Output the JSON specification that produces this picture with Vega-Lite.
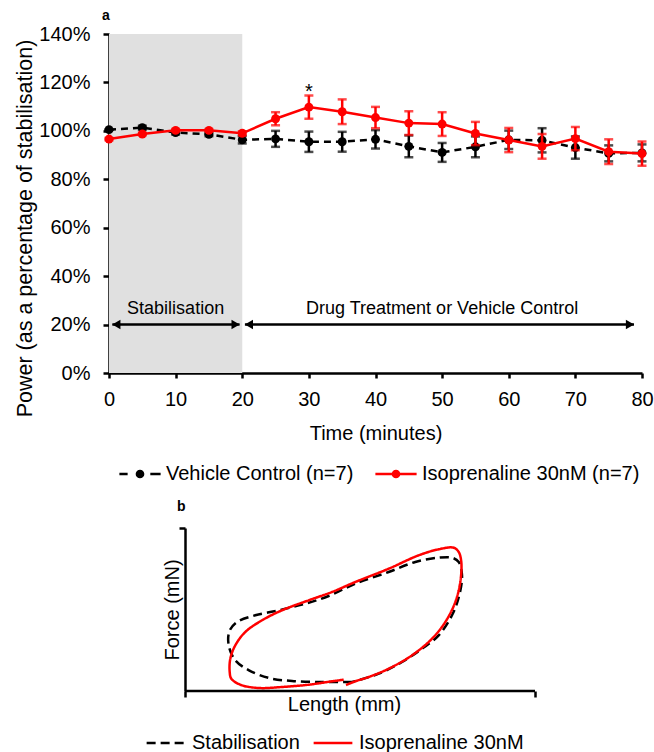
{
  "$schema": "https://vega.github.io/schema/vega-lite/v6.json",
  "padding": {"left": 14, "top": 9, "right": 0, "bottom": 0},
  "background": "white",
  "config": {
    "font": "Liberation Sans",
    "view": {"stroke": null},
    "axis": {"domainColor": "black", "tickColor": "black", "labelColor": "black", "titleColor": "black", "domainWidth": 2.5, "tickWidth": 2.5, "grid": false, "labelFont": "Liberation Sans", "titleFont": "Liberation Sans", "titleFontWeight": "normal", "labelFontSize": 20, "titleFontSize": 20},
    "legend": {"labelFont": "Liberation Sans", "labelFontSize": 20, "labelColor": "black", "labelLimit": 400, "symbolOpacity": 1},
    "title": {"font": "Liberation Sans", "color": "black"}
  },
  "datasets": {
    "shade": [{"start": 0, "end": 20}],
    "phases": [
      {"label": "Stabilisation", "from": 0.5, "to": 19.6, "mid": 10},
      {"label": "Drug Treatment or Vehicle Control", "from": 20.4, "to": 78.8, "mid": 50}
    ],
    "signif": [{"t": 30, "text": "*"}],
    "timecourse": [
      {"series": "Vehicle Control (n=7)", "t": 0, "mean": 100.5, "sem": 0},
      {"series": "Vehicle Control (n=7)", "t": 5, "mean": 101.3, "sem": 0.8},
      {"series": "Vehicle Control (n=7)", "t": 10, "mean": 99.3, "sem": 0.8},
      {"series": "Vehicle Control (n=7)", "t": 15, "mean": 98.6, "sem": 0.8},
      {"series": "Vehicle Control (n=7)", "t": 20, "mean": 96.3, "sem": 1.5},
      {"series": "Vehicle Control (n=7)", "t": 25, "mean": 96.7, "sem": 3.3},
      {"series": "Vehicle Control (n=7)", "t": 30, "mean": 95.5, "sem": 4.2},
      {"series": "Vehicle Control (n=7)", "t": 35, "mean": 95.5, "sem": 4.1},
      {"series": "Vehicle Control (n=7)", "t": 40, "mean": 96.5, "sem": 3.8},
      {"series": "Vehicle Control (n=7)", "t": 45, "mean": 93.6, "sem": 4.5},
      {"series": "Vehicle Control (n=7)", "t": 50, "mean": 91.1, "sem": 3.9},
      {"series": "Vehicle Control (n=7)", "t": 55, "mean": 93.4, "sem": 4.3},
      {"series": "Vehicle Control (n=7)", "t": 60, "mean": 96.3, "sem": 3.8},
      {"series": "Vehicle Control (n=7)", "t": 65, "mean": 96.1, "sem": 5.0},
      {"series": "Vehicle Control (n=7)", "t": 70, "mean": 93.1, "sem": 4.6},
      {"series": "Vehicle Control (n=7)", "t": 75, "mean": 90.7, "sem": 3.3},
      {"series": "Vehicle Control (n=7)", "t": 80, "mean": 90.9, "sem": 3.5},
      {"series": "Isoprenaline 30nM (n=7)", "t": 0, "mean": 96.6, "sem": 0.5},
      {"series": "Isoprenaline 30nM (n=7)", "t": 5, "mean": 98.7, "sem": 0.5},
      {"series": "Isoprenaline 30nM (n=7)", "t": 10, "mean": 100.2, "sem": 0.5},
      {"series": "Isoprenaline 30nM (n=7)", "t": 15, "mean": 100.2, "sem": 0.5},
      {"series": "Isoprenaline 30nM (n=7)", "t": 20, "mean": 99.0, "sem": 0.8},
      {"series": "Isoprenaline 30nM (n=7)", "t": 25, "mean": 105.0, "sem": 2.7},
      {"series": "Isoprenaline 30nM (n=7)", "t": 30, "mean": 109.8, "sem": 4.8},
      {"series": "Isoprenaline 30nM (n=7)", "t": 35, "mean": 107.9, "sem": 5.1},
      {"series": "Isoprenaline 30nM (n=7)", "t": 40, "mean": 105.5, "sem": 4.4},
      {"series": "Isoprenaline 30nM (n=7)", "t": 45, "mean": 103.2, "sem": 4.9},
      {"series": "Isoprenaline 30nM (n=7)", "t": 50, "mean": 102.8, "sem": 4.9},
      {"series": "Isoprenaline 30nM (n=7)", "t": 55, "mean": 98.9, "sem": 4.8},
      {"series": "Isoprenaline 30nM (n=7)", "t": 60, "mean": 96.2, "sem": 5.0},
      {"series": "Isoprenaline 30nM (n=7)", "t": 65, "mean": 93.6, "sem": 5.1},
      {"series": "Isoprenaline 30nM (n=7)", "t": 70, "mean": 96.8, "sem": 4.8},
      {"series": "Isoprenaline 30nM (n=7)", "t": 75, "mean": 91.4, "sem": 5.1},
      {"series": "Isoprenaline 30nM (n=7)", "t": 80, "mean": 90.6, "sem": 5.0}
    ],
    "loops": [
      {"trace": "Stabilisation", "order": 0, "length": 167, "force": 9},
      {"trace": "Stabilisation", "order": 1, "length": 137, "force": 9},
      {"trace": "Stabilisation", "order": 2, "length": 107, "force": 10},
      {"trace": "Stabilisation", "order": 3, "length": 84, "force": 13},
      {"trace": "Stabilisation", "order": 4, "length": 64, "force": 20.7},
      {"trace": "Stabilisation", "order": 5, "length": 50.3, "force": 30.7},
      {"trace": "Stabilisation", "order": 6, "length": 43.7, "force": 45.7},
      {"trace": "Stabilisation", "order": 7, "length": 44.5, "force": 60},
      {"trace": "Stabilisation", "order": 8, "length": 52, "force": 69},
      {"trace": "Stabilisation", "order": 9, "length": 70.3, "force": 75.7},
      {"trace": "Stabilisation", "order": 10, "length": 93.7, "force": 80.7},
      {"trace": "Stabilisation", "order": 11, "length": 120.3, "force": 87.3},
      {"trace": "Stabilisation", "order": 12, "length": 143.7, "force": 95},
      {"trace": "Stabilisation", "order": 13, "length": 170.3, "force": 107.3},
      {"trace": "Stabilisation", "order": 14, "length": 203.7, "force": 119},
      {"trace": "Stabilisation", "order": 15, "length": 230.3, "force": 129},
      {"trace": "Stabilisation", "order": 16, "length": 253.7, "force": 133.3},
      {"trace": "Stabilisation", "order": 17, "length": 267, "force": 133.3},
      {"trace": "Stabilisation", "order": 18, "length": 273.7, "force": 129},
      {"trace": "Stabilisation", "order": 19, "length": 277, "force": 115.7},
      {"trace": "Stabilisation", "order": 20, "length": 274.3, "force": 95.7},
      {"trace": "Stabilisation", "order": 21, "length": 267, "force": 75.7},
      {"trace": "Stabilisation", "order": 22, "length": 253.7, "force": 55.7},
      {"trace": "Stabilisation", "order": 23, "length": 237, "force": 42.3},
      {"trace": "Stabilisation", "order": 24, "length": 217, "force": 29},
      {"trace": "Stabilisation", "order": 25, "length": 193.7, "force": 17.3},
      {"trace": "Stabilisation", "order": 26, "length": 167, "force": 9},
      {"trace": "Isoprenaline 30nM", "order": 0, "length": 158.7, "force": 11.3},
      {"trace": "Isoprenaline 30nM", "order": 1, "length": 147, "force": 9.7},
      {"trace": "Isoprenaline 30nM", "order": 2, "length": 123.7, "force": 6.3},
      {"trace": "Isoprenaline 30nM", "order": 3, "length": 97, "force": 4},
      {"trace": "Isoprenaline 30nM", "order": 4, "length": 73.7, "force": 3},
      {"trace": "Isoprenaline 30nM", "order": 5, "length": 55.3, "force": 6.3},
      {"trace": "Isoprenaline 30nM", "order": 6, "length": 46.3, "force": 12.3},
      {"trace": "Isoprenaline 30nM", "order": 7, "length": 44.7, "force": 19},
      {"trace": "Isoprenaline 30nM", "order": 8, "length": 45.3, "force": 32.3},
      {"trace": "Isoprenaline 30nM", "order": 9, "length": 50.3, "force": 45.7},
      {"trace": "Isoprenaline 30nM", "order": 10, "length": 60.3, "force": 59},
      {"trace": "Isoprenaline 30nM", "order": 11, "length": 77, "force": 70.7},
      {"trace": "Isoprenaline 30nM", "order": 12, "length": 97, "force": 80.7},
      {"trace": "Isoprenaline 30nM", "order": 13, "length": 123.7, "force": 90.7},
      {"trace": "Isoprenaline 30nM", "order": 14, "length": 147, "force": 99},
      {"trace": "Isoprenaline 30nM", "order": 15, "length": 170.3, "force": 109},
      {"trace": "Isoprenaline 30nM", "order": 16, "length": 203.7, "force": 122.3},
      {"trace": "Isoprenaline 30nM", "order": 17, "length": 233.7, "force": 135.7},
      {"trace": "Isoprenaline 30nM", "order": 18, "length": 253.7, "force": 141.7},
      {"trace": "Isoprenaline 30nM", "order": 19, "length": 268.7, "force": 143.3},
      {"trace": "Isoprenaline 30nM", "order": 20, "length": 273.7, "force": 139},
      {"trace": "Isoprenaline 30nM", "order": 21, "length": 276.3, "force": 129},
      {"trace": "Isoprenaline 30nM", "order": 22, "length": 275.3, "force": 109},
      {"trace": "Isoprenaline 30nM", "order": 23, "length": 270.3, "force": 89},
      {"trace": "Isoprenaline 30nM", "order": 24, "length": 260.3, "force": 69},
      {"trace": "Isoprenaline 30nM", "order": 25, "length": 247, "force": 52.3},
      {"trace": "Isoprenaline 30nM", "order": 26, "length": 227, "force": 35.7},
      {"trace": "Isoprenaline 30nM", "order": 27, "length": 203.7, "force": 22.3},
      {"trace": "Isoprenaline 30nM", "order": 28, "length": 183.7, "force": 14},
      {"trace": "Isoprenaline 30nM", "order": 29, "length": 170.3, "force": 9.7},
      {"trace": "Isoprenaline 30nM", "order": 30, "length": 161, "force": 6}
    ],
    "baseline": [{"axis": "length"}]
  },
  "vconcat": [
    {
      "width": 533,
      "height": 339,
      "title": {"text": "a", "anchor": "start", "frame": "group", "fontSize": 14, "fontWeight": "bold", "dx": -7, "offset": 1},
      "layer": [
        {
          "data": {"name": "shade"},
          "mark": {"type": "rect", "color": "#e0e0e0"},
          "encoding": {
            "x": {"field": "start", "type": "quantitative", "scale": {"domain": [0, 80], "nice": false}, "axis": {"title": "Time (minutes)", "values": [0, 10, 20, 30, 40, 50, 60, 70, 80], "tickSize": 5, "labelPadding": 11, "titlePadding": 14, "labelFlush": false}},
            "x2": {"field": "end"},
            "y": {"datum": 0, "type": "quantitative", "scale": {"domain": [0, 140], "nice": false}, "axis": {"title": "Power (as a percentage of stabilisation)", "titleFontSize": 21.5, "titleY": 194, "titleAlign": "center", "values": [0, 20, 40, 60, 80, 100, 120, 140], "labelExpr": "datum.value + '%'", "tickSize": 6, "labelPadding": 13, "titlePadding": 2}},
            "y2": {"datum": 140}
          }
        },
        {
          "data": {"name": "phases"},
          "mark": {"type": "rule", "color": "black", "strokeWidth": 2.5},
          "encoding": {"x": {"field": "from", "type": "quantitative"}, "x2": {"field": "to"}, "y": {"datum": 20, "type": "quantitative"}}
        },
        {
          "data": {"name": "phases"},
          "mark": {"type": "point", "shape": "triangle-left", "filled": true, "color": "black", "opacity": 1, "size": 90, "xOffset": 4},
          "encoding": {"x": {"field": "from", "type": "quantitative"}, "y": {"datum": 20, "type": "quantitative"}}
        },
        {
          "data": {"name": "phases"},
          "mark": {"type": "point", "shape": "triangle-right", "filled": true, "color": "black", "opacity": 1, "size": 90, "xOffset": -4},
          "encoding": {"x": {"field": "to", "type": "quantitative"}, "y": {"datum": 20, "type": "quantitative"}}
        },
        {
          "data": {"name": "phases"},
          "mark": {"type": "text", "fontSize": 18, "color": "black", "baseline": "alphabetic", "align": "center"},
          "encoding": {"x": {"field": "mid", "type": "quantitative"}, "y": {"datum": 24.4, "type": "quantitative"}, "text": {"field": "label"}}
        },
        {
          "data": {"name": "timecourse"},
          "transform": [{"filter": "datum.series === 'Vehicle Control (n=7)'"}],
          "mark": {"type": "line", "strokeWidth": 2.5, "strokeDash": [7, 5]},
          "encoding": {
            "x": {"field": "t", "type": "quantitative", "title": "Time (minutes)"},
            "y": {"field": "mean", "type": "quantitative", "title": "Power (as a percentage of stabilisation)"},
            "color": {"field": "series", "type": "nominal", "scale": {"domain": ["Vehicle Control (n=7)", "Isoprenaline 30nM (n=7)"], "range": ["black", "#ff0000"]}, "legend": {"title": null, "orient": "none", "direction": "horizontal", "legendX": 9, "legendY": 418, "padding": 0, "symbolSize": 1700, "symbolStrokeWidth": 2.5, "symbolOpacity": 1, "labelOffset": 4, "columnPadding": 16, "labelFontSize": 20, "labelLimit": 400}}
          }
        },
        {
          "data": {"name": "timecourse"},
          "transform": [{"filter": "datum.series === 'Vehicle Control (n=7)'"}],
          "mark": {"type": "errorbar", "thickness": 2.5, "ticks": {"size": 9, "thickness": 2.5}},
          "encoding": {"x": {"field": "t", "type": "quantitative", "title": "Time (minutes)"}, "y": {"field": "mean", "type": "quantitative", "title": "Power (as a percentage of stabilisation)"}, "yError": {"field": "sem"}, "color": {"field": "series", "type": "nominal"}}
        },
        {
          "data": {"name": "timecourse"},
          "transform": [{"filter": "datum.series === 'Vehicle Control (n=7)'"}],
          "mark": {"type": "circle", "size": 80, "opacity": 1},
          "encoding": {"x": {"field": "t", "type": "quantitative", "title": "Time (minutes)"}, "y": {"field": "mean", "type": "quantitative", "title": "Power (as a percentage of stabilisation)"}, "color": {"field": "series", "type": "nominal"}}
        },
        {
          "data": {"name": "timecourse"},
          "transform": [{"filter": "datum.series === 'Isoprenaline 30nM (n=7)'"}],
          "mark": {"type": "line", "strokeWidth": 2.5},
          "encoding": {"x": {"field": "t", "type": "quantitative", "title": "Time (minutes)"}, "y": {"field": "mean", "type": "quantitative", "title": "Power (as a percentage of stabilisation)"}, "color": {"field": "series", "type": "nominal"}}
        },
        {
          "data": {"name": "timecourse"},
          "transform": [{"filter": "datum.series === 'Isoprenaline 30nM (n=7)'"}],
          "mark": {"type": "errorbar", "thickness": 2.5, "ticks": {"size": 9, "thickness": 2.5}},
          "encoding": {"x": {"field": "t", "type": "quantitative", "title": "Time (minutes)"}, "y": {"field": "mean", "type": "quantitative", "title": "Power (as a percentage of stabilisation)"}, "yError": {"field": "sem"}, "color": {"field": "series", "type": "nominal"}}
        },
        {
          "data": {"name": "timecourse"},
          "transform": [{"filter": "datum.series === 'Isoprenaline 30nM (n=7)'"}],
          "mark": {"type": "circle", "size": 80, "opacity": 1},
          "encoding": {"x": {"field": "t", "type": "quantitative", "title": "Time (minutes)"}, "y": {"field": "mean", "type": "quantitative", "title": "Power (as a percentage of stabilisation)"}, "color": {"field": "series", "type": "nominal"}}
        },
        {
          "data": {"name": "timecourse"},
          "transform": [{"filter": "datum.t === 0"}],
          "mark": {"type": "point", "filled": false, "opacity": 0, "strokeWidth": 2.5},
          "encoding": {
            "x": {"field": "t", "type": "quantitative", "title": "Time (minutes)"},
            "y": {"field": "mean", "type": "quantitative", "title": "Power (as a percentage of stabilisation)"},
            "color": {"field": "series", "type": "nominal"},
            "shape": {"field": "series", "type": "nominal", "scale": {"domain": ["Vehicle Control (n=7)", "Isoprenaline 30nM (n=7)"], "range": ["M-1,0H-0.6M0.5,0H1M0.15,0A0.15,0.15,0,1,1,-0.15,0A0.15,0.15,0,1,1,0.15,0M0.08,0A0.08,0.08,0,1,1,-0.08,0A0.08,0.08,0,1,1,0.08,0M0.02,0A0.02,0.02,0,1,1,-0.02,0A0.02,0.02,0,1,1,0.02,0", "M-1,0H1M0.15,0A0.15,0.15,0,1,1,-0.15,0A0.15,0.15,0,1,1,0.15,0M0.08,0A0.08,0.08,0,1,1,-0.08,0A0.08,0.08,0,1,1,0.08,0M0.02,0A0.02,0.02,0,1,1,-0.02,0A0.02,0.02,0,1,1,0.02,0"]}, "legend": {"title": null, "orient": "none", "direction": "horizontal", "legendX": 9, "legendY": 418, "padding": 0, "symbolSize": 1700, "symbolStrokeWidth": 2.5, "symbolOpacity": 1, "labelOffset": 4, "columnPadding": 16, "labelFontSize": 20, "labelLimit": 400}}
          }
        },
        {
          "data": {"name": "signif"},
          "mark": {"type": "text", "fontSize": 20, "color": "black", "baseline": "middle", "align": "center"},
          "encoding": {"x": {"field": "t", "type": "quantitative"}, "y": {"datum": 116, "type": "quantitative"}, "text": {"field": "text"}}
        }
      ]
    },
    {
      "width": 426,
      "height": 163,
      "title": {"text": "b", "anchor": "start", "frame": "group", "fontSize": 14, "fontWeight": "bold", "dx": 68, "offset": 13},
      "layer": [
        {
          "data": {"name": "loops"},
          "transform": [{"filter": "datum.trace === 'Stabilisation'"}],
          "mark": {"type": "line", "strokeWidth": 2.5, "interpolate": "catmull-rom"},
          "encoding": {
            "x": {"field": "length", "type": "quantitative", "scale": {"domain": [-76, 350], "nice": false, "zero": false}, "axis": {"title": "Length (mm)", "labels": false, "domain": false, "ticks": true, "values": [0, 350], "tickSize": 6, "titleX": 235, "titleAlign": "center", "titlePadding": -4}},
            "y": {"field": "force", "type": "quantitative", "scale": {"domain": [0, 163], "nice": false}, "axis": {"title": "Force (mN)", "labels": false, "ticks": true, "values": [163], "tickSize": 6, "offset": -76, "titlePadding": -5}},
            "order": {"field": "order", "type": "quantitative"},
            "color": {"field": "trace", "type": "nominal", "scale": {"domain": ["Stabilisation", "Isoprenaline 30nM"], "range": ["black", "#ff0000"]}, "legend": {"title": null, "orient": "none", "direction": "horizontal", "legendX": 36, "legendY": 194, "padding": 0, "symbolType": "stroke", "symbolSize": 1500, "symbolStrokeWidth": 2.5, "labelOffset": 5, "columnPadding": 8, "labelFontSize": 20, "labelLimit": 400}},
            "strokeDash": {"field": "trace", "type": "nominal", "scale": {"domain": ["Stabilisation", "Isoprenaline 30nM"], "range": [[9, 5], [1, 0]]}, "legend": {"title": null, "orient": "none", "direction": "horizontal", "legendX": 36, "legendY": 194, "padding": 0, "symbolType": "stroke", "symbolSize": 1500, "symbolStrokeWidth": 2.5, "labelOffset": 5, "columnPadding": 8, "labelFontSize": 20, "labelLimit": 400}}
          }
        },
        {
          "data": {"name": "loops"},
          "transform": [{"filter": "datum.trace === 'Isoprenaline 30nM'"}],
          "mark": {"type": "line", "strokeWidth": 2.5, "interpolate": "catmull-rom"},
          "encoding": {
            "x": {"field": "length", "type": "quantitative"},
            "y": {"field": "force", "type": "quantitative"},
            "order": {"field": "order", "type": "quantitative"},
            "color": {"field": "trace", "type": "nominal"},
            "strokeDash": {"field": "trace", "type": "nominal"}
          }
        },
        {
          "data": {"name": "baseline"},
          "mark": {"type": "rule", "color": "black", "strokeWidth": 2.5},
          "encoding": {"x": {"datum": 0, "type": "quantitative"}, "x2": {"datum": 350}, "y": {"datum": 0, "type": "quantitative"}}
        }
      ]
    }
  ],
  "spacing": 15,
  "resolve": {"scale": {"color": "independent", "shape": "independent", "strokeDash": "independent"}, "legend": {"color": "independent", "shape": "independent", "strokeDash": "independent"}}
}
